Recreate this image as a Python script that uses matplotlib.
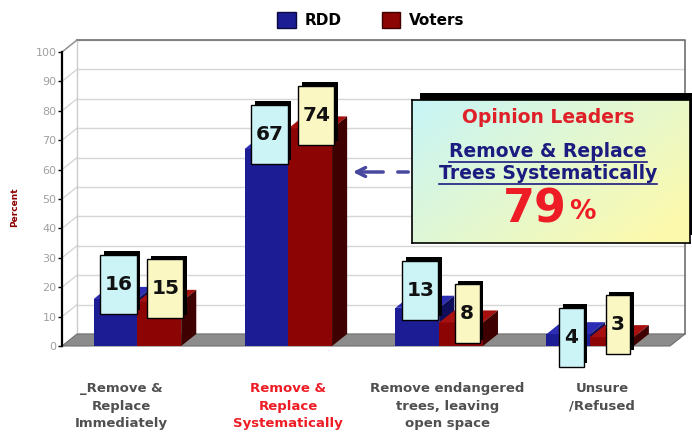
import matplotlib.pyplot as plt
import numpy as np
from matplotlib.patches import Polygon, Rectangle, Patch
from matplotlib.transforms import ScaledTranslation

categories = ['_Remove &\nReplace\nImmediately', 'Remove &\nReplace\nSystematically',
              'Remove endangered\ntrees, leaving\nopen space', 'Unsure\n/Refused']
rdd = [16, 67, 13, 4]
voters = [15, 74, 8, 3]
leaders_pct = 79

# how far each value tag sits above the top of its bar
rdd_lift = [5, 5, 6, -1]
voters_lift = [4.5, 4.5, 3, 4.3]

W, H = 692, 433
fig = plt.figure(figsize=(W / 100, H / 100), dpi=100)
ax = fig.add_axes([62 / W, 1 - 346 / H, 608 / W, 294 / H])
x0, x1 = -0.5, 3.53
ax.set_xlim(x0, x1)
ax.set_ylim(0, 100)
ax.patch.set_visible(False)

dx, dy = 0.1, 4.1   # depth offset of the 3d box
bw = 0.29

# walls and floor
ax.add_patch(Polygon([(x0 + dx, dy), (x1 + dx, dy), (x1 + dx, 100 + dy), (x0 + dx, 100 + dy)],
                     closed=True, fc='white', ec='none', zorder=0, clip_on=False))
for t in range(10, 101, 10):
    ax.plot([x0 + dx, x1 + dx], [t + dy, t + dy], color='#d6d6d6', lw=1, zorder=1, clip_on=False)
    ax.plot([x0, x0 + dx], [t, t + dy], color='#d6d6d6', lw=1, zorder=1, clip_on=False)
ax.plot([x0 + dx, x0 + dx], [dy, 100 + dy], color='#cccccc', lw=1, zorder=1, clip_on=False)
ax.plot([x0 + dx, x1 + dx, x1 + dx], [100 + dy, 100 + dy, dy], color='#707070', lw=1.2,
        zorder=1, clip_on=False)
ax.plot([x0, x0 + dx], [100, 100 + dy], color='#909090', lw=1, zorder=1, clip_on=False)
ax.add_patch(Polygon([(x0, 0), (x1, 0), (x1 + dx, dy), (x0 + dx, dy)], closed=True,
                     fc='#8c8c8c', ec='#707070', lw=0.8, zorder=2, clip_on=False))


def bar3d(left, value, front, top, side, z):
    ax.bar(left, value, width=bw, align='edge', color=front, zorder=z, clip_on=False)
    ax.add_patch(Polygon([(left, value), (left + bw, value), (left + bw + dx, value + dy),
                          (left + dx, value + dy)], closed=True, fc=top, ec='none',
                         zorder=z, clip_on=False))
    ax.add_patch(Polygon([(left + bw, 0), (left + bw, value), (left + bw + dx, value + dy),
                          (left + bw + dx, dy)], closed=True, fc=side, ec='none',
                         zorder=z, clip_on=False))


def value_tag(cx, cy, value, face):
    w = 0.24 if value >= 10 else 0.165
    h = 20
    ax.add_patch(Rectangle((cx - w / 2 + 0.025, cy - h / 2 + 1.2), w, h, fc='black',
                           ec='none', zorder=20, clip_on=False))
    ax.add_patch(Rectangle((cx - w / 2, cy - h / 2), w, h, fc=face, ec='black', lw=1,
                           zorder=21, clip_on=False))
    ax.text(cx, cy, str(value), ha='center', va='center', fontsize=14.5,
            fontweight='bold', color='#111111', zorder=22, clip_on=False)


for i in range(len(categories)):
    z = 3 + i * 2
    bar3d(i - bw, rdd[i], '#1c1c94', '#2c2cb4', '#0e0e5a', z)
    bar3d(i, voters[i], '#8c0404', '#a81010', '#3e0000', z + 1)

for i in range(len(categories)):
    value_tag(i - bw / 2 + 0.02, rdd[i] + rdd_lift[i], rdd[i], '#ccf4f7')
    value_tag(i + bw / 2 + 0.04, voters[i] + voters_lift[i], voters[i], '#fbf7c2')

# axes styling
for s in ['top', 'right', 'bottom']:
    ax.spines[s].set_visible(False)
ax.spines['left'].set_linewidth(1.6)
ax.set_yticks(range(0, 101, 10))
ax.tick_params(axis='y', length=3, width=1, labelsize=8, labelcolor='#a0a0a0', pad=1)
ax.set_xticks(range(len(categories)), categories)
ax.tick_params(axis='x', length=0, pad=26)
for k, lbl in enumerate(ax.get_xticklabels()):
    lbl.set_fontsize(9.5)
    lbl.set_fontweight('bold')
    lbl.set_linespacing(1.45)
    lbl.set_color('#ee1c25' if k == 1 else '#505050')
# first label sits a little left of its group, the last two a little right
shifts = [-0.16, 0, 0.08, 0.12]
for lbl, s in zip(ax.get_xticklabels(), shifts):
    lbl.set_transform(lbl.get_transform() + ScaledTranslation(s, 0, fig.dpi_scale_trans))

fig.text(15 / W, 1 - 207 / H, 'Percent', rotation=90, ha='center', va='center',
         fontsize=6.5, fontweight='bold', color='#8b0000')

handles = [Patch(facecolor='#1c1c94', edgecolor='#0a0a40'),
           Patch(facecolor='#8c0404', edgecolor='#3e0000')]
fig.legend(handles, ['RDD', 'Voters'], loc='center', bbox_to_anchor=(371 / W, 1 - 20 / H),
           ncol=2, frameon=False, prop=dict(weight='bold', size=11), handlelength=1.2,
           handleheight=1.2, columnspacing=2.6, handletextpad=0.6)

# opinion leaders callout
shadow = Rectangle((420 / W, 1 - 235 / H), 278 / W, 142 / H, transform=fig.transFigure,
                   fc='black', ec='none', zorder=5)
fig.patches.append(shadow)
bx = fig.add_axes([412 / W, 1 - 243 / H, 278 / W, 143 / H])
bx.set_zorder(6)
gx, gy = np.meshgrid(np.linspace(0, 1, 200), np.linspace(0, 1, 100))
t = np.clip(0.65 * gx + 0.45 * gy, 0, 1)[..., None]
c0 = np.array([0.78, 0.96, 0.97])
c1 = np.array([0.99, 0.98, 0.68])
bx.imshow(c0 * (1 - t) + c1 * t, extent=[0, 1, 0, 1], aspect='auto')
bx.set_xticks([])
bx.set_yticks([])
for s in bx.spines.values():
    s.set_linewidth(1.2)
    s.set_color('black')
bx.text(0.49, 0.88, 'Opinion Leaders', ha='center', va='center', fontsize=13.5,
        fontweight='bold', color='#e02028', transform=bx.transAxes)
line1 = bx.text(0.49, 0.64, 'Remove & Replace', ha='center', va='center', fontsize=13.5,
                fontweight='bold', color='#1c1c80', transform=bx.transAxes)
line2 = bx.text(0.49, 0.485, 'Trees Systematically', ha='center', va='center',
                fontsize=13.5, fontweight='bold', color='#1c1c80', transform=bx.transAxes)
bx.text(0.555, 0.23, str(leaders_pct), ha='right', va='center', fontsize=33,
        fontweight='bold', color='#ee1c25', transform=bx.transAxes)
bx.text(0.565, 0.215, '%', ha='left', va='center', fontsize=19,
        fontweight='bold', color='#ee1c25', transform=bx.transAxes)

# underline the two title lines
fig.canvas.draw()
inv = bx.transAxes.inverted()
for ln in [line1, line2]:
    bb = ln.get_window_extent()
    (ua, vy), (ub, _) = inv.transform([(bb.x0, bb.y0 - 1), (bb.x1, bb.y0 - 1)])
    bx.plot([ua, ub], [vy, vy], color='#1c1c80', lw=1.2, transform=bx.transAxes)

# dashed pointer from the callout to the systematic bars
ax.annotate('', xy=(350, H - 172), xycoords='figure pixels', xytext=(386, H - 172),
            textcoords='figure pixels',
            arrowprops=dict(arrowstyle='->', lw=2.5, color='#4848a0', mutation_scale=16))
ax.annotate('', xy=(395, H - 172), xycoords='figure pixels', xytext=(411, H - 172),
            textcoords='figure pixels',
            arrowprops=dict(arrowstyle='-', lw=2.5, color='#4848a0'))

fig.savefig('out.png', dpi=100)
